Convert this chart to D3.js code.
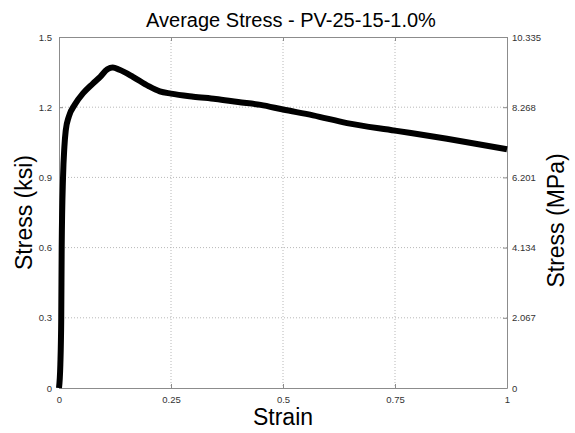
<!DOCTYPE html>
<html>
<head>
<meta charset="utf-8">
<script src="https://cdn.jsdelivr.net/npm/d3@7"></script>
<style>
html,body{margin:0;padding:0;background:#fff;overflow:hidden;}
svg{display:block;font-family:Arial,"Liberation Sans",sans-serif;}
</style>
</head>
<body>
<svg id="chart" width="575" height="433"></svg>
<script>
const titleText = "Average Stress - PV-25-15-1.0%";
const xLabel = "Strain";
const yLabel = "Stress (ksi)";
const y2Label = "Stress (MPa)";
const strain = [0, 0.003, 0.005, 0.006, 0.009, 0.012, 0.015, 0.022, 0.035, 0.054, 0.075, 0.092, 0.108, 0.12, 0.135, 0.165, 0.2, 0.225, 0.25, 0.3, 0.35, 0.4, 0.45, 0.5, 0.567, 0.643, 0.75, 0.866, 1.0];
const stress = [0, 0.1, 0.3, 0.6, 0.9, 1.03, 1.1, 1.16, 1.21, 1.26, 1.30, 1.33, 1.362, 1.37, 1.36, 1.33, 1.29, 1.268, 1.258, 1.245, 1.235, 1.222, 1.21, 1.19, 1.165, 1.132, 1.10, 1.065, 1.02];
const xTicks = [0, 0.25, 0.5, 0.75, 1];
const xTickLabels = ["0", "0.25", "0.5", "0.75", "1"];
const yTicks = [0, 0.3, 0.6, 0.9, 1.2, 1.5];
const yTickLabels = ["0", "0.3", "0.6", "0.9", "1.2", "1.5"];
const y2TickLabels = ["0", "2.067", "4.134", "6.201", "8.268", "10.335"];

const svg = d3.select("#chart");
const L = 59, R = 507, T = 37, B = 388;
const x = d3.scaleLinear().domain([0, 1]).range([L, R]);
const y = d3.scaleLinear().domain([0, 1.5]).range([B, T]);

// grid
const grid = svg.append("g");
grid.selectAll("line.gx").data(xTicks.slice(1, -1)).enter().append("line")
  .attr("x1", d => x(d)).attr("x2", d => x(d)).attr("y1", T).attr("y2", B)
  .attr("stroke", "#b8b8b8").attr("stroke-width", 1).attr("stroke-dasharray", "1,2");
grid.selectAll("line.gy").data(yTicks.slice(1, -1)).enter().append("line")
  .attr("y1", d => y(d)).attr("y2", d => y(d)).attr("x1", L).attr("x2", R)
  .attr("stroke", "#b8b8b8").attr("stroke-width", 1).attr("stroke-dasharray", "1,2");

// axes
const axisColor = "#8c8c8c";
const gx = svg.append("g").attr("transform", `translate(0,${B})`)
  .call(d3.axisBottom(x).tickValues(xTicks).tickFormat((d, i) => xTickLabels[i]).tickSizeInner(-4).tickSizeOuter(0).tickPadding(8));
const gxt = svg.append("g").attr("transform", `translate(0,${T})`)
  .call(d3.axisTop(x).tickValues(xTicks).tickFormat("").tickSizeInner(-4).tickSizeOuter(0));
const gy = svg.append("g").attr("transform", `translate(${L},0)`)
  .call(d3.axisLeft(y).tickValues(yTicks).tickFormat((d, i) => yTickLabels[i]).tickSizeInner(-4).tickSizeOuter(0).tickPadding(7));
const gy2 = svg.append("g").attr("transform", `translate(${R},0)`)
  .call(d3.axisRight(y).tickValues(yTicks).tickFormat((d, i) => y2TickLabels[i]).tickSizeInner(-4).tickSizeOuter(0).tickPadding(5));
[gx, gxt, gy, gy2].forEach(g => {
  g.select(".domain").attr("stroke", axisColor);
  g.selectAll(".tick line").attr("stroke", axisColor);
  g.selectAll("text").attr("fill", "#333").style("font-size", "9.5px").style("font-family", "Arial, 'Liberation Sans', sans-serif");
});

// line
const line = d3.line().x((d, i) => x(strain[i])).y((d, i) => y(d)).curve(d3.curveMonotoneX);
svg.append("path").datum(stress).attr("d", line)
  .attr("fill", "none").attr("stroke", "#000").attr("stroke-width", 6)
  .attr("stroke-linejoin", "round").attr("stroke-linecap", "butt");

// labels
svg.append("text").attr("x", (L + R) / 2 + 8).attr("y", 27).attr("text-anchor", "middle")
  .style("font-size", "20px").attr("fill", "#000").text(titleText);
svg.append("text").attr("x", (L + R) / 2).attr("y", 425).attr("text-anchor", "middle")
  .style("font-size", "23px").attr("fill", "#000").text(xLabel);
svg.append("text").attr("transform", `translate(32,${(T + B) / 2}) rotate(-90)`).attr("text-anchor", "middle")
  .style("font-size", "23px").attr("fill", "#000").text(yLabel);
svg.append("text").attr("transform", `translate(564,${(T + B) / 2 + 8}) rotate(-90)`).attr("text-anchor", "middle")
  .style("font-size", "23px").attr("fill", "#000").text(y2Label);
</script>
</body>
</html>
